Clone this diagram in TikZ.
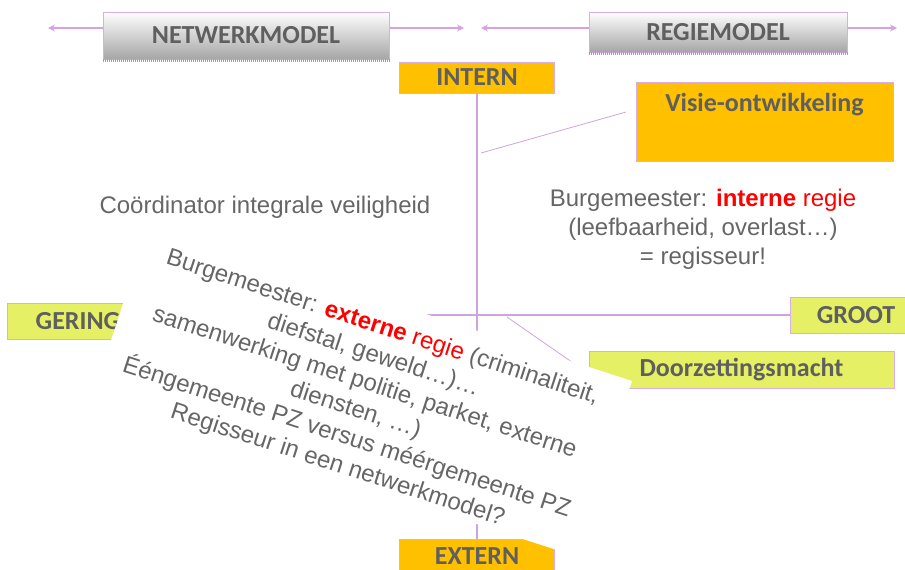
\documentclass[tikz,border=0pt]{standalone}
\usepackage{fontspec}
\setmainfont{Liberation Sans}
\newfontfamily\carl{Carlito}
\usetikzlibrary{arrows.meta}
\definecolor{txtgray}{HTML}{666666}
\definecolor{lblgray}{HTML}{5F5F5F}
\definecolor{orng}{HTML}{FFC000}
\definecolor{ylw}{HTML}{E6F065}
\definecolor{lilac}{HTML}{D8AEE6}
\definecolor{lilacline}{HTML}{CFA3DD}
\definecolor{arrowlilac}{HTML}{D7A2E2}
\begin{document}
\begin{tikzpicture}[x=1pt,y=-1pt,
  lblfont/.style={font=\carl\bfseries\fontsize{26}{30}\selectfont, text=lblgray},
  box/.style={lblfont, draw=lilac, line width=0.9pt, inner sep=0pt},
  orangebox/.style={box, fill=orng},
  greenbox/.style={box, fill=ylw},
  gradbox/.style={box, top color=white, bottom color=gray!70},
  strip/.style={draw=gray!75, line width=3pt, dash pattern=on 1pt off 1pt},
  conn/.style={draw=lilacline, line width=1.1pt},
  arr/.style={draw=arrowlilac, line width=1.8pt, {Stealth[length=7pt,width=7pt]}-{Stealth[length=7pt,width=7pt]}},
  body/.style={text=txtgray, font=\fontsize{24}{29}\selectfont, align=center, inner sep=0pt}
]
\useasboundingbox (0,0) rectangle (905,570);

% top arrows
\coordinate (aL1) at (48,28);
\coordinate (aL2) at (464,28);
\coordinate (aR1) at (481,28);
\coordinate (aR2) at (897,28);
\draw[arr] (aL1) -- (aL2);
\draw[arr] (aR1) -- (aR2);

% model boxes
\node[gradbox, minimum width=286pt, minimum height=47pt] (netw) at (246,35.5) {NETWERKMODEL};
\draw[strip] ([yshift=-1.5pt]netw.south west) -- ([yshift=-1.5pt]netw.south east);
\node[gradbox, minimum width=258pt, minimum height=40pt] (regie) at (718,32) {REGIEMODEL};
\draw[strip] ([yshift=-1.5pt]regie.south west) -- ([yshift=-1.5pt]regie.south east);

% axes boxes
\node[orangebox, minimum width=155pt, minimum height=31pt] (intern) at (477,77.5) {INTERN};
\node[orangebox, minimum width=155pt, minimum height=35pt] (extern) at (477,556.5) {EXTERN};
\node[greenbox, minimum width=142pt, minimum height=36pt] (gering) at (78,321) {GERING};
\node[greenbox, minimum width=132pt, minimum height=36pt] (groot) at (856,315) {GROOT};
\node[greenbox, minimum width=305pt, minimum height=37pt] (doorz) at (741.5,369.5) {Doorzettingsmacht};
\node[orangebox, minimum width=257pt, minimum height=79pt] (visie) at (764.5,121.5) {};
\node[lblfont, inner sep=0pt] (visietxt) at (764.5,105) {Visie-ontwikkeling};

% axes
\draw[conn] (intern.south) -- (extern.north);
\draw[conn] (groot.west) -- (groot.west -| gering.east);

% diagonal connectors
\coordinate (v1) at (481,153);
\coordinate (v2) at (626,112);
\draw[conn, line width=0.8pt] (v1) -- (v2);
\coordinate (d1) at (507,317);
\coordinate (d2) at (589,374);
\draw[conn, line width=0.8pt] (d1) -- (d2);

% free texts
\node[body] (coord) at (265,207) {Coördinator integrale veiligheid};
\node[body] (intregie) at (703,229) {Burgemeester: \textcolor{red}{\bfseries interne} \textcolor{red}{regie}\\(leefbaarheid, overlast…)\\= regisseur!};

% rotated text on white
\node[fill=white, inner sep=0pt, rotate=-18, minimum width=508pt, minimum height=184pt] (extbg) at (362,390) {};
\node[body, rotate=-18] (extregie) at (360,397)
 {Burgemeester: \textcolor{red}{\bfseries externe} \textcolor{red}{regie} (criminaliteit,\\
  diefstal, geweld…)…\\
  samenwerking met politie, parket, externe\\
  diensten, …)\\
  Ééngemeente PZ versus méérgemeente PZ\\
  Regisseur in een netwerkmodel?};
\end{tikzpicture}
\end{document}
